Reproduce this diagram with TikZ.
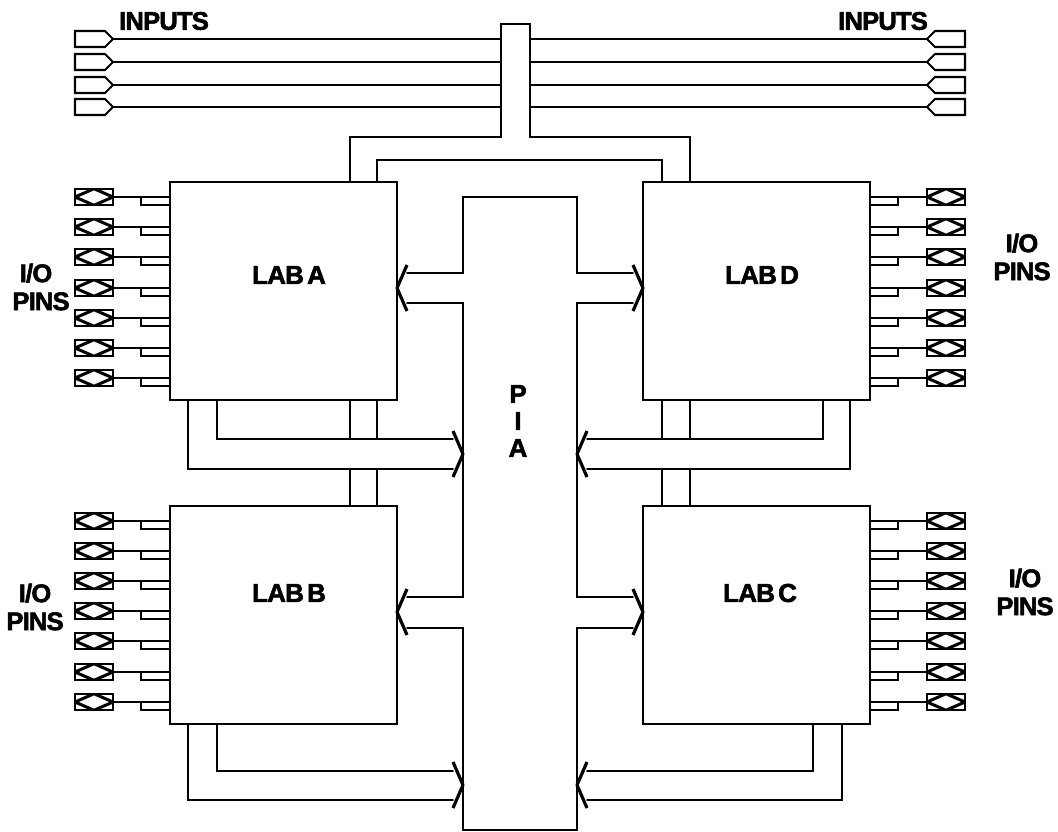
\documentclass[tikz,border=0pt]{standalone}
\usepackage{fontspec}
\setmainfont{Liberation Sans}[LetterSpace=-3,WordSpace=0.5,BoldFeatures={FakeBold=2.2}]
\usetikzlibrary{shapes.symbols,calc}
\tikzset{
  conn/.style={line width=1.9pt,line cap=round,line join=miter},
  barb/.style={line width=3.2pt,line join=round,line cap=butt},
  block/.style={draw,line width=2pt,minimum width=227pt,minimum height=218pt,inner sep=0pt,outer sep=0pt},
  pad/.style={draw,line width=2.4pt,minimum width=38pt,minimum height=16.5pt,inner sep=0pt,outer sep=0pt,
    path picture={\draw[line width=3pt] (path picture bounding box.west)--(path picture bounding box.north)--(path picture bounding box.east)--(path picture bounding box.south)--cycle;}},
  inpad/.style={draw,line width=2.1pt,signal,signal pointer angle=90,minimum width=38pt,minimum height=16pt,inner sep=0pt,outer sep=0pt},
  lbl/.style={inner sep=0pt,font=\bfseries\fontsize{26}{27}\selectfont,align=center},
  side/.style={inner sep=0pt,font=\bfseries\fontsize{25.5}{28}\selectfont,align=center}
}
\begin{document}
\begin{tikzpicture}[x=1pt,y=-1pt]
\useasboundingbox (0,0) rectangle (1058,832);
% logic array blocks
\node[block] (A) at (283.5,291) {};
\node[block] (B) at (283.5,615) {};
\node[block] (D) at (756.5,291) {};
\node[block] (C) at (756.5,615) {};
\node[lbl] (tA) at (289,275) {LAB A};
\node[lbl] (tB) at (289,593) {LAB B};
\node[lbl] (tD) at (762,275) {LAB D};
\node[lbl] (tC) at (760,593) {LAB C};
\node[lbl] (tP) at (518,421) {P\\I\\A};
% guides
\coordinate (tl) at (501,24);
\coordinate (tr) at (530,24);
\coordinate (x1) at (350,0);
\coordinate (x2) at (377,0);
\coordinate (x3) at (662,0);
\coordinate (x4) at (690,0);
% inputs
\node[side] (iL) at (164,21) {INPUTS};
\node[side] (iR) at (883,21) {INPUTS};
\foreach \i/\y in {1/39,2/62,3/85,4/107}{
  \node[inpad,signal to=east,signal from=nowhere] (inL\i) at (90,\y) {};
  \node[inpad,signal to=west,signal from=nowhere] (inR\i) at (950,\y) {};
  \draw[conn] (inL\i.east) -- (inL\i.east -| tl);
  \draw[conn] (inR\i.west) -- (inR\i.west -| tr);
}
% input trunk
\draw[conn] (x1 |- A.north) -- (350,137) -- (501,137) -- (tl) -- (tr) -- (530,137) -- (690,137) -- (x4 |- D.north);
\draw[conn] (x2 |- A.north) -- (377,160) -- (662,160) -- (x3 |- D.north);
% PIA outline
\draw[conn] (407,273) -- (463,273) -- (463,197) -- (577,197) -- (577,273) -- (633,273);
\draw[conn] (407,303) -- (463,303) -- (463,597) -- (407,597);
\draw[conn] (633,303) -- (577,303) -- (577,597) -- (633,597);
\draw[conn] (407,628) -- (463,628) -- (463,830) -- (577,830) -- (577,628) -- (633,628);
% arrowheads into the blocks
\coordinate (tipA) at (A.east |- 0,288);
\coordinate (tipB) at (B.east |- 0,612);
\coordinate (tipD) at (D.west |- 0,288);
\coordinate (tipC) at (C.west |- 0,612);
\draw[barb] (407,265) -- (tipA) -- (407,311);
\draw[barb] (407,589) -- (tipB) -- (407,635);
\draw[barb] (633,265) -- (tipD) -- (633,311);
\draw[barb] (633,589) -- (tipC) -- (633,635);
% block outputs to PIA
\draw[conn] (188,400) -- (188,469) -- (453,469);
\draw[conn] (217,400) -- (217,439) -- (453,439);
\draw[barb] (453,431) -- (463,454) -- (453,477);
\draw[conn] (850,400) -- (850,469) -- (587,469);
\draw[conn] (823,400) -- (823,439) -- (587,439);
\draw[barb] (587,431) -- (577,454) -- (587,477);
\draw[conn] (188,724) -- (188,800) -- (453,800);
\draw[conn] (217,724) -- (217,771) -- (453,771);
\draw[barb] (453,762) -- (463,785) -- (453,808);
\draw[conn] (842,724) -- (842,800) -- (587,800);
\draw[conn] (813,724) -- (813,771) -- (587,771);
\draw[barb] (587,762) -- (577,785) -- (587,808);
% vertical links between upper and lower blocks
\foreach \x in {x1,x2}{
  \draw[conn] (\x |- A.south) -- (\x |- 0,439);
  \draw[conn] (\x |- 0,469) -- (\x |- B.north);
}
\foreach \x in {x3,x4}{
  \draw[conn] (\x |- D.south) -- (\x |- 0,439);
  \draw[conn] (\x |- 0,469) -- (\x |- C.north);
}
% I/O pads
\foreach \i/\y in {1/197,2/227,3/257,4/288,5/318,6/348,7/378}{
  \node[pad] (pa\i) at (94,\y) {};
  \node[pad] (pd\i) at (946,\y) {};
  \draw[conn] (pa\i.east) -- (pa\i.east -| A.west);
  \draw[conn] (pd\i.west) -- (pd\i.west -| D.east);
  \coordinate (sa\i) at (141,\y);
  \coordinate (sd\i) at (898,\y);
  \draw[conn] (sa\i) -- ++(0,8) -- ($(sa\i -| A.west)+(0,8)$);
  \draw[conn] (sd\i) -- ++(0,8) -- ($(sd\i -| D.east)+(0,8)$);
}
\foreach \i/\y in {1/521,2/551,3/581,4/611,5/641,6/672,7/702}{
  \node[pad] (pb\i) at (94,\y) {};
  \node[pad] (pc\i) at (946,\y) {};
  \draw[conn] (pb\i.east) -- (pb\i.east -| B.west);
  \draw[conn] (pc\i.west) -- (pc\i.west -| C.east);
  \coordinate (sb\i) at (141,\y);
  \coordinate (sc\i) at (898,\y);
  \draw[conn] (sb\i) -- ++(0,8) -- ($(sb\i -| B.west)+(0,8)$);
  \draw[conn] (sc\i) -- ++(0,8) -- ($(sc\i -| C.east)+(0,8)$);
}
% side labels
\node[side] (pA) at (41,287) {I/O\hspace*{10pt}\\PINS};
\node[side] (pB) at (35,607) {I/O\\PINS};
\node[side] (pD) at (1022,257) {I/O\\PINS};
\node[side] (pC) at (1025,592) {I/O\\PINS};
\end{tikzpicture}
\end{document}
